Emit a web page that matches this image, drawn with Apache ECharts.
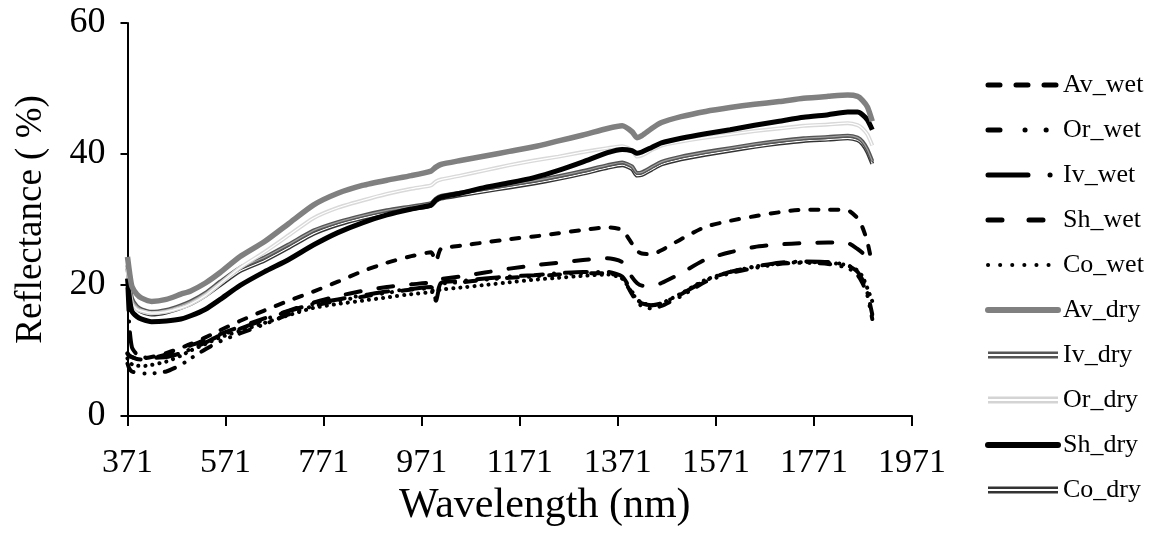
<!DOCTYPE html>
<html>
<head>
<meta charset="utf-8">
<script src="https://cdn.jsdelivr.net/npm/echarts@6/dist/echarts.min.js"></script>
<style>html,body{margin:0;padding:0;background:#fff}#c{width:1153px;height:540px}</style>
</head>
<body>
<div id="c"></div>
<script>
const wavelengths = [371,375,380,390,400,420,450,480,500,530,560,600,650,700,750,800,850,900,950,990,1000,1010,1050,1100,1150,1200,1250,1300,1350,1380,1400,1410,1420,1440,1460,1500,1550,1600,1650,1700,1750,1800,1840,1860,1870,1880,1890];
const xTicks = [371,571,771,971,1171,1371,1571,1771,1971];
const yTicks = [0,20,40,60];

const Av_wet = [9.5,9.2,9.0,8.8,8.8,9.0,9.6,10.4,11.0,12.0,13.1,14.5,16.1,17.6,19.0,20.5,22.1,23.4,24.4,25.0,23.6,25.5,26.0,26.5,27.0,27.4,27.9,28.4,28.8,28.4,26.3,25.2,24.8,24.7,25.3,27.0,28.9,29.8,30.5,31.1,31.5,31.5,31.4,30.2,28.8,26.6,23.0];
const Or_wet = [8.0,7.2,6.8,6.6,6.5,6.5,6.8,7.8,8.8,10.2,11.4,12.6,14.0,15.5,16.8,17.6,18.2,18.8,19.3,19.5,17.6,20.1,20.4,20.8,21.1,21.3,21.6,21.8,21.8,21.0,18.6,17.4,16.8,16.4,16.8,18.3,20.5,21.8,22.6,23.2,23.4,23.2,22.6,21.5,20.3,18.4,14.8];
const Iv_wet = [19.5,13.5,10.5,9.4,9.0,8.9,9.0,9.6,10.2,11.2,12.3,13.3,14.7,16.0,17.1,17.8,18.4,19.0,19.4,19.7,17.8,20.3,20.6,21.0,21.3,21.5,21.8,22.0,22.0,21.3,19.0,17.8,17.2,16.9,17.2,18.6,20.7,22.0,22.8,23.4,23.6,23.5,23.0,22.0,20.8,18.8,15.5];
const Sh_wet = [9.6,9.2,9.0,8.7,8.6,8.8,9.4,10.2,10.8,11.6,12.5,13.6,14.9,16.1,17.3,18.3,19.1,19.7,20.1,20.4,20.8,20.9,21.3,21.9,22.5,23.0,23.4,23.8,24.1,23.5,21.2,20.3,19.9,19.8,20.3,21.8,23.9,25.0,25.8,26.2,26.4,26.5,26.4,25.5,24.9,24.0,22.8];
const Co_wet = [8.8,8.2,7.9,7.7,7.6,7.8,8.3,9.2,10.0,11.0,12.0,13.0,14.2,15.4,16.5,17.1,17.6,18.1,18.6,18.9,19.1,19.3,19.6,20.0,20.4,20.8,21.1,21.4,21.6,21.0,18.8,17.8,17.3,16.9,17.2,18.7,20.8,22.0,22.8,23.3,23.5,23.4,23.0,22.2,21.3,19.5,17.5];
const Av_dry = [24.3,22.0,19.8,18.6,18.0,17.5,17.8,18.6,19.1,20.3,21.9,24.3,26.6,29.4,32.2,34.0,35.2,36.0,36.7,37.4,38.0,38.4,39.0,39.7,40.4,41.1,42.0,42.9,43.9,44.3,43.4,42.5,42.8,43.9,44.8,45.7,46.5,47.1,47.6,48.0,48.5,48.8,49.0,48.8,48.2,47.2,45.0];
const Iv_dry = [23.0,20.5,18.0,16.8,16.3,15.9,16.2,16.9,17.5,18.8,20.5,22.6,24.2,26.2,28.3,29.6,30.6,31.4,32.0,32.5,33.2,33.6,34.1,34.7,35.3,35.9,36.6,37.4,38.3,38.7,38.1,37.1,37.2,38.0,38.8,39.6,40.3,40.9,41.5,42.0,42.4,42.6,42.8,42.5,41.9,40.7,38.9];
const Or_dry = [22.5,19.5,17.2,16.3,16.0,15.7,15.9,16.5,17.1,18.4,20.2,22.6,25.0,27.6,30.2,31.8,32.9,33.9,34.7,35.2,35.8,36.1,36.7,37.5,38.3,39.0,39.6,40.3,40.9,41.2,40.6,39.6,39.8,40.6,41.3,41.9,42.5,43.0,43.5,43.9,44.3,44.5,44.7,44.4,43.9,43.0,41.3];
const Sh_dry = [21.0,18.0,16.0,15.2,14.8,14.4,14.5,14.8,15.3,16.3,17.8,19.9,22.0,23.9,26.1,28.0,29.5,30.7,31.6,32.2,33.0,33.4,34.0,34.9,35.6,36.4,37.5,38.8,40.2,40.7,40.5,40.1,40.3,41.0,41.7,42.4,43.1,43.7,44.4,45.0,45.6,46.0,46.4,46.4,46.0,45.2,43.7];
const Co_dry = [22.5,20.0,17.6,16.4,15.9,15.5,15.8,16.5,17.1,18.4,20.0,22.1,23.7,25.7,27.8,29.2,30.2,31.0,31.6,32.1,32.8,33.2,33.7,34.3,34.9,35.5,36.2,37.0,37.9,38.3,37.7,36.7,36.8,37.6,38.4,39.2,39.9,40.5,41.1,41.6,42.0,42.2,42.4,42.1,41.5,40.3,38.5];

const FONT = '"Liberation Serif", "Times New Roman", serif';
function pairs(vals){ return wavelengths.map((w,i)=>[w, vals[i]]); }

function wet(name, vals, dash){
  return {name, type:'line', data:pairs(vals), showSymbol:false, symbol:'circle', smooth:0.2,
    color:'#000', itemStyle:{color:'#000'},
    lineStyle:{color:'#000', width:4, type:dash, cap:'round', join:'round'}, z:2};
}
function dry(name, vals, color, width, z){
  return {name, type:'line', data:pairs(vals), showSymbol:false, symbol:'circle', smooth:0.2,
    color:color, itemStyle:{color:color},
    lineStyle:{color:color, width:width, type:'solid', join:'round'}, z:z};
}

const series = [
  wet('Av_wet', Av_wet, [8,12]),
  wet('Or_wet', Or_wet, [11,11,0.1,10,0.1,10]),
  wet('Iv_wet', Iv_wet, [22,11,0.1,11]),
  wet('Sh_wet', Sh_wet, [15,18]),
  wet('Co_wet', Co_wet, [0.1,7]),
  dry('Co_dry', Co_dry, '#333333', 4, 3),
  dry('Co_dry_in', Co_dry, '#ffffff', 1.2, 3),
  dry('Iv_dry', Iv_dry, '#555555', 4, 4),
  dry('Iv_dry_in', Iv_dry, '#a0a0a0', 1.2, 4),
  dry('Or_dry', Or_dry, '#d9d9d9', 4, 5),
  dry('Or_dry_in', Or_dry, '#ffffff', 1.2, 5),
  dry('Sh_dry', Sh_dry, '#000000', 5, 6),
  dry('Av_dry', Av_dry, '#808080', 5.5, 7)
];

const dblIcon = 'path://M0,0H70V7H0Z M0,2.5V4.5H70V2.5Z';
const hideSym = {opacity:0};
function lineItem(name, color, width, dash){
  return {name, itemStyle:hideSym, lineStyle:{color:color, width:width, type:dash, cap:'round'}};
}
const legendData = [
  lineItem('Av_wet', '#000', 5, [12,16]),
  lineItem('Or_wet', '#000', 5, [12,25,0.1,21,0.1,30]),
  lineItem('Iv_wet', '#000', 5, [40,22,0.1,30]),
  lineItem('Sh_wet', '#000', 5, [14,27]),
  lineItem('Co_wet', '#000', 4, [0.1,12]),
  lineItem('Av_dry', '#808080', 6, 'solid'),
  {name:'Iv_dry', icon:dblIcon, itemStyle:{opacity:1, color:'#555555'}},
  {name:'Or_dry', icon:dblIcon, itemStyle:{opacity:1, color:'#d4d4d4'}},
  lineItem('Sh_dry', '#000', 6, 'solid'),
  {name:'Co_dry', icon:dblIcon, itemStyle:{opacity:1, color:'#333333'}}
];

const chart = echarts.init(document.getElementById('c'), null, {renderer:'canvas'});
chart.setOption({
  animation:false,
  backgroundColor:'#fff',
  grid:{left:127.5, right:241, top:23, bottom:124, containLabel:false},
  legend:{
    data:legendData, orient:'vertical', left:980, top:67,
    itemWidth:70, itemHeight:7, itemGap:19,
    textStyle:{fontFamily:FONT, fontSize:26, color:'#000', lineHeight:26},
    selectedMode:false
  },
  xAxis:{
    type:'value', min:xTicks[0], max:xTicks[xTicks.length-1], interval:200,
    name:'Wavelength (nm)', nameLocation:'middle', nameGap:60,
    nameTextStyle:{fontFamily:FONT, fontSize:42, color:'#000', padding:[0,0,0,50]},
    axisLine:{lineStyle:{color:'#000', width:2}},
    axisTick:{show:true, length:10, lineStyle:{color:'#000', width:2}},
    axisLabel:{fontFamily:FONT, fontSize:34, color:'#000', margin:30, formatter:(v)=>String(v)},
    splitLine:{show:false}
  },
  yAxis:{
    type:'value', min:yTicks[0], max:yTicks[yTicks.length-1], interval:20,
    name:'Reflectance ( %)', nameLocation:'middle', nameGap:78,
    nameTextStyle:{fontFamily:FONT, fontSize:37, color:'#000'},
    axisLine:{show:true, lineStyle:{color:'#000', width:2}},
    axisTick:{show:true, length:7, lineStyle:{color:'#000', width:2}},
    axisLabel:{fontFamily:FONT, fontSize:36, color:'#000', margin:22, formatter:(v)=>String(v)},
    splitLine:{show:false}
  },
  series:series
});
</script>
</body>
</html>
